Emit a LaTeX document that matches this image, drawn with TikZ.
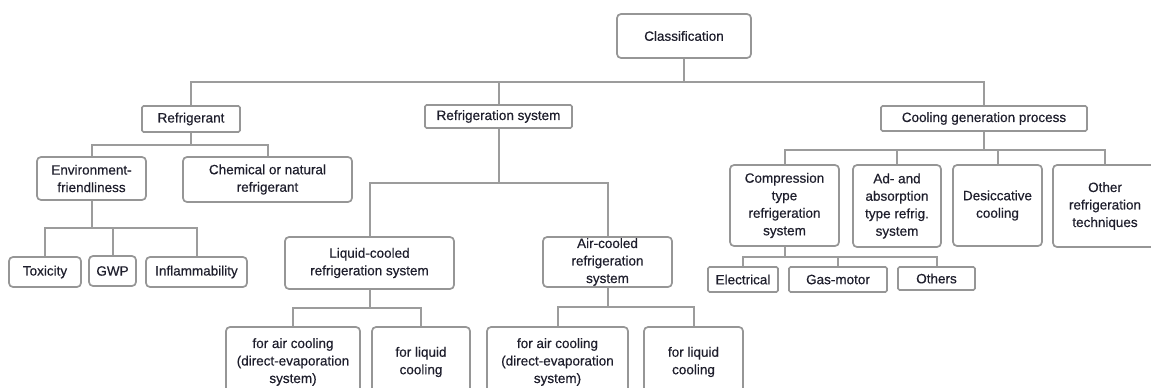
\documentclass[tikz,border=0pt]{standalone}
\usepackage{fontspec}
\setmainfont{Liberation Sans}[FakeBold=0.4]
\definecolor{boxgray}{HTML}{969696}
\definecolor{linegray}{HTML}{9C9C9C}
\definecolor{txt}{HTML}{1E1E2C}
\tikzset{
  box/.style={draw=boxgray, line width=1.7pt, rounded corners=4pt, fill=white,
    inner sep=0pt, align=center, text=txt,
    font=\fontsize{13.5}{17.5}\selectfont},
  sqbox/.style={box, rounded corners=1.5pt},
  conn/.style={draw=linegray, line width=2pt}
}
\begin{document}
\begin{tikzpicture}[x=1pt,y=-1pt]
\useasboundingbox (0,0) rectangle (1151,388);
\clip (0,0) rectangle (1151,388);
\fill[white] (0,0) rectangle (1151,388);
% bar coordinates
\coordinate (b0) at (0,82);
\coordinate (b1) at (0,145);
\coordinate (b2) at (0,228);
\coordinate (b3) at (0,183);
\coordinate (b4) at (0,308);
\coordinate (b5) at (0,307);
\coordinate (b6) at (0,150);
\coordinate (b7) at (0,257);
% nodes
\node[box, minimum width=134pt, minimum height=44pt] (cls) at (684,36) {Classification};
\node[sqbox, minimum width=98pt, minimum height=26pt] (ref) at (191,119) {Refrigerant};
\node[sqbox, minimum width=147pt, minimum height=23pt] (rsys) at (498.5,116.5) {Refrigeration system};
\node[sqbox, minimum width=206pt, minimum height=25pt] (cgp) at (984,118.5) {Cooling generation process};
\node[box, minimum width=109pt, minimum height=43pt] (env) at (91.5,178.5) {Environment-\\friendliness};
\node[box, minimum width=169pt, minimum height=45pt] (chem) at (267.5,179.5) {Chemical or natural\\refrigerant};
\node[box, minimum width=72pt, minimum height=30pt] (tox) at (45,272) {Toxicity};
\node[box, minimum width=47pt, minimum height=30pt] (gwp) at (112.5,271) {GWP};
\node[box, minimum width=101pt, minimum height=30pt] (inf) at (196.5,272) {Inflammability};
\node[box, minimum width=169pt, minimum height=52pt] (liq) at (369.5,263) {Liquid-cooled\\refrigeration system};
\node[box, minimum width=129pt, minimum height=50pt] (air) at (607.5,262) {Air-cooled\\refrigeration\\system};
\node[box, minimum width=134pt, minimum height=70pt] (fa1) at (293,362) {for air cooling\\(direct-evaporation\\system)};
\node[box, minimum width=98pt, minimum height=70pt] (fl1) at (421,362) {for liquid\\cooling};
\node[box, minimum width=141pt, minimum height=70pt] (fa2) at (557.5,362) {for air cooling\\(direct-evaporation\\system)};
\node[box, minimum width=99pt, minimum height=70pt] (fl2) at (693.5,362) {for liquid\\cooling};
\node[box, minimum width=109pt, minimum height=81pt] (comp) at (784.5,205.5) {Compression\\type\\refrigeration\\system};
\node[box, minimum width=88pt, minimum height=82pt] (ads) at (897,206) {Ad- and\\absorption\\type refrig.\\system};
\node[box, minimum width=89pt, minimum height=81pt] (des) at (997.5,205.5) {Desiccative\\cooling};
\node[box, minimum width=104pt, minimum height=82pt] (oth) at (1105,206) {Other\\refrigeration\\techniques};
\node[sqbox, minimum width=70pt, minimum height=25pt] (elec) at (743,279.5) {Electrical};
\node[sqbox, minimum width=98pt, minimum height=25pt] (gas) at (838,279.5) {Gas-motor};
\node[sqbox, minimum width=77pt, minimum height=23pt] (othr) at (936.5,278.5) {Others};
% connectors
\foreach \c in {ref,rsys,cgp}
  \draw[conn] (cls.south) |- (\c.north |- b0) -- (\c.north);
\foreach \c in {env,chem}
  \draw[conn] (ref.south) |- (\c.north |- b1) -- (\c.north);
\foreach \c in {tox,gwp,inf}
  \draw[conn] (env.south) |- (\c.north |- b2) -- (\c.north);
\foreach \c in {liq,air}
  \draw[conn] (rsys.south) |- (\c.north |- b3) -- (\c.north);
\foreach \c in {fa1,fl1}
  \draw[conn] (liq.south) |- (\c.north |- b4) -- (\c.north);
\foreach \c in {fa2,fl2}
  \draw[conn] (air.south) |- (\c.north |- b5) -- (\c.north);
\foreach \c in {comp,ads,des,oth}
  \draw[conn] (cgp.south) |- (\c.north |- b6) -- (\c.north);
\foreach \c in {elec,gas,othr}
  \draw[conn] (comp.south) |- (\c.north |- b7) -- (\c.north);
\end{tikzpicture}
\end{document}
